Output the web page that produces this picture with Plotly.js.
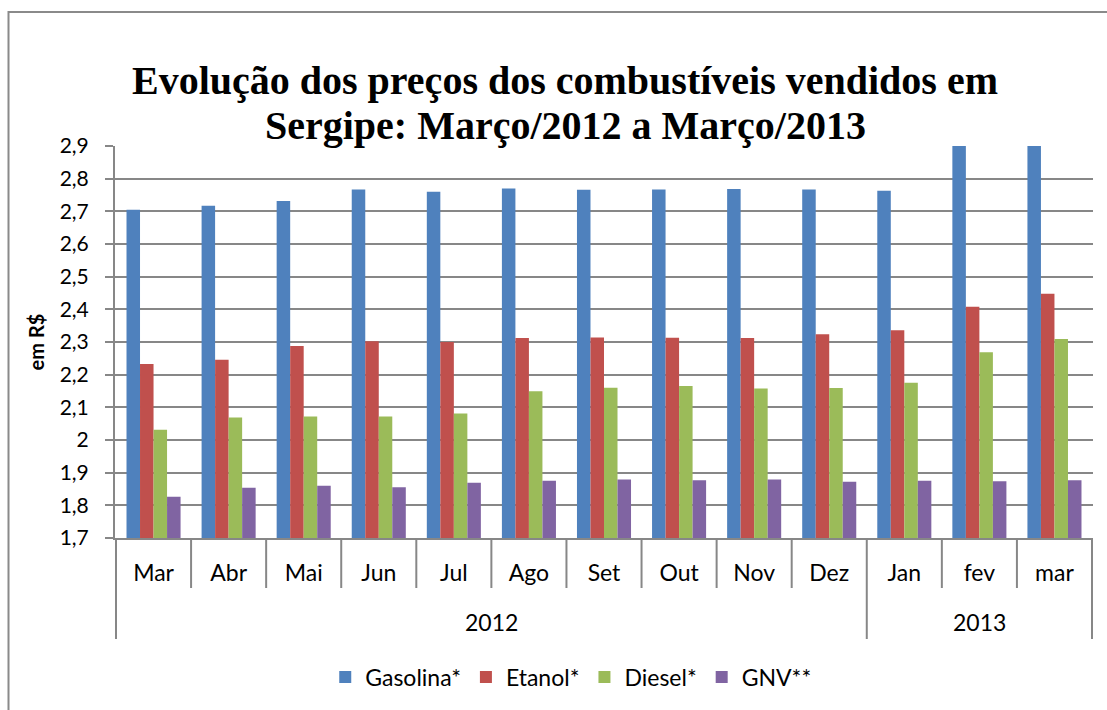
<!DOCTYPE html>
<html>
<head>
<meta charset="utf-8">
<script src="https://cdn.plot.ly/plotly-3.0.1.min.js"></script>
<style>
html,body{margin:0;padding:0;background:#fff;}
#chart{width:1107px;height:710px;}
</style>
</head>
<body>
<div id="chart"></div>
<script>
// ---- Data ----
var months = ["Mar","Abr","Mai","Jun","Jul","Ago","Set","Out","Nov","Dez","Jan","fev","mar"];
var years = ["2012","2013"];
var yearCounts = [10, 3];
var gasolina = [2.705, 2.717, 2.732, 2.767, 2.760, 2.770, 2.766, 2.767, 2.768, 2.767, 2.763, 2.95, 2.96];
var etanol   = [2.233, 2.246, 2.288, 2.302, 2.300, 2.312, 2.314, 2.313, 2.312, 2.324, 2.336, 2.408, 2.448];
var diesel   = [2.031, 2.069, 2.072, 2.072, 2.081, 2.149, 2.160, 2.165, 2.158, 2.159, 2.175, 2.269, 2.309];
var gnv      = [1.826, 1.854, 1.860, 1.855, 1.869, 1.875, 1.879, 1.877, 1.879, 1.872, 1.875, 1.874, 1.877];
var seriesNames = ["Gasolina*","Etanol*","Diesel*","GNV**"];
var yTickVals = [1.7,1.8,1.9,2.0,2.1,2.2,2.3,2.4,2.5,2.6,2.7,2.8,2.9];
var yTickText = ["1,7","1,8","1,9","2","2,1","2,2","2,3","2,4","2,5","2,6","2,7","2,8","2,9"];
var titleLine1 = "Evolução dos preços dos combustíveis vendidos em";
var titleLine2 = "Sergipe: Março/2012 a Março/2013";

var colors = ["#4F81BD","#C0504D","#9BBB59","#8064A2"];
var allSeries = [gasolina, etanol, diesel, gnv];
var gridColor = "#878787";
var labelFont = "Lato, 'Open Sans', 'DejaVu Sans', sans-serif";
var titleFont = {family: "'Liberation Serif', 'Times New Roman', serif", size: 40, color: "#000", weight: "bold"};

var traces = allSeries.map(function(vals, k){
  return {
    type: "bar",
    name: seriesNames[k],
    x: months,
    y: vals,
    marker: {color: colors[k], line: {width: 0}}
  };
});

// plot geometry (pixels) for divider shapes
var plotTop = 146, plotBottom = 538;
var plotH = plotBottom - plotTop;
var shortDrop = -50 / plotH;
var longDrop = -101 / plotH;

var shapes = [];
var outer = {};
outer[-0.5] = true;
var acc = -0.5;
yearCounts.forEach(function(c){ acc += c; outer[acc] = true; });
for (var i = 0; i <= months.length; i++) {
  var xb = i - 0.5;
  shapes.push({
    type: "line", xref: "x", yref: "paper",
    x0: xb, x1: xb, y0: 0, y1: outer[xb] ? longDrop : shortDrop,
    line: {color: gridColor, width: 2}
  });
}
// outer chart border
shapes.push({
  type: "rect", xref: "paper", yref: "paper",
  x0: (8.5 - 115) / 978, x1: 1.2,
  y0: -0.6, y1: (plotBottom - 12) / plotH,
  line: {color: "#8a8a8a", width: 2}, fillcolor: "rgba(0,0,0,0)"
});

var annotations = [];
var start = 0;
yearCounts.forEach(function(c, j){
  annotations.push({
    xref: "x", yref: "paper",
    x: start + (c - 1) / 2, y: 0,
    yshift: -84, yanchor: "middle", xanchor: "center",
    text: years[j], showarrow: false,
    font: {family: labelFont, size: 23, color: "#000"}
  });
  start += c;
});
// second title line
annotations.push({
  xref: "paper", yref: "paper",
  x: (565 - 115) / 978, y: 1, yshift: 538 - 125 - plotH,
  xanchor: "center", yanchor: "middle",
  text: titleLine2, showarrow: false, font: titleFont
});

var layout = {
  width: 1107, height: 710,
  margin: {l: 115, r: 14, t: plotTop, b: 710 - plotBottom},
  paper_bgcolor: "#fff", plot_bgcolor: "#fff",
  title: {
    text: titleLine1,
    font: titleFont,
    x: 565 / 1107, xref: "container", xanchor: "center",
    y: 1 - 80 / 710, yref: "container", yanchor: "middle"
  },
  barmode: "group",
  bargap: 0.28,
  bargroupgap: 0,
  showlegend: true,
  legend: {
    orientation: "h",
    x: 0.466, xanchor: "center", xref: "paper",
    y: -(677 - plotBottom) / plotH, yanchor: "middle",
    itemwidth: 30,
    font: {family: labelFont, size: 23, color: "#000"},
    bgcolor: "rgba(0,0,0,0)"
  },
  xaxis: {
    type: "category",
    categoryorder: "array", categoryarray: months,
    showline: true, linecolor: gridColor, linewidth: 2,
    ticks: "", showgrid: false,
    ticklabelstandoff: 13,
    tickfont: {family: labelFont, size: 23, color: "#000"},
    fixedrange: true
  },
  yaxis: {
    range: [1.7, 2.9],
    tickvals: yTickVals, ticktext: yTickText,
    showline: true, linecolor: gridColor, linewidth: 2,
    ticks: "outside", ticklen: 8, tickcolor: gridColor, tickwidth: 2,
    ticklabelstandoff: 12,
    showgrid: true, gridcolor: gridColor, gridwidth: 2,
    zeroline: false,
    tickfont: {family: labelFont, size: 21, color: "#000"},
    title: {text: "em R$", font: {family: labelFont, size: 20, color: "#000", weight: "bold"}, standoff: 10},
    fixedrange: true
  },
  shapes: shapes,
  annotations: annotations
};

Plotly.newPlot("chart", traces, layout, {displayModeBar: false, staticPlot: true});
</script>
</body>
</html>
